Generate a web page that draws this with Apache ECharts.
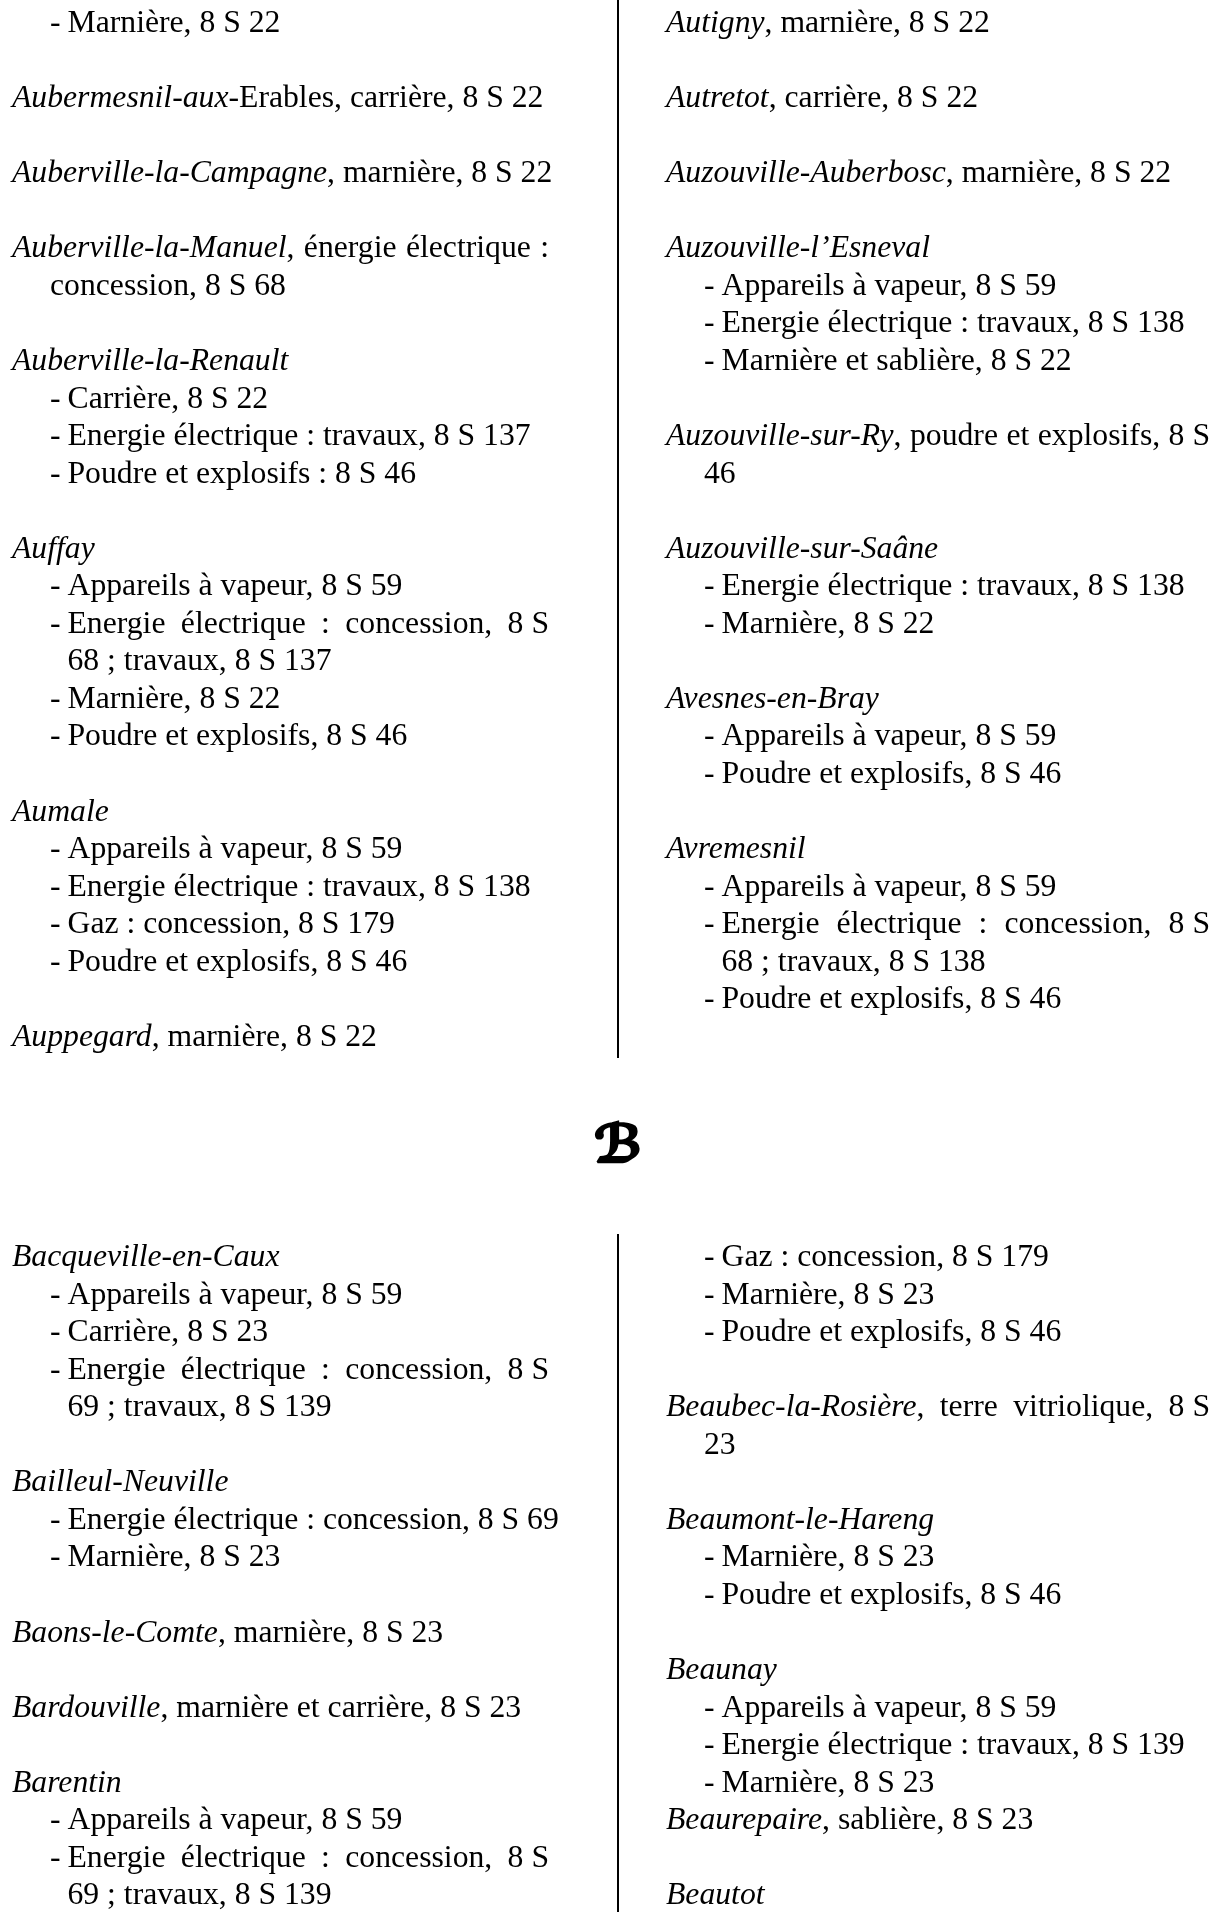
<!DOCTYPE html>
<html>
<head>
<meta charset="utf-8">
<script src="https://cdn.jsdelivr.net/npm/echarts@6/dist/echarts.min.js"></script>
<style>
    html, body { margin: 0; padding: 0; background: #fff; }
    #page { width: 1223px; height: 1912px; }
</style>
</head>
<body>
<div id="page"></div>
<script>
// _..._ = italique, '- ' = sous-entrée, '+ ' = suite de la ligne précédente, '' = ligne vide
const leftTop = [
    '- Marnière, 8 S 22',
    '',
    '_Aubermesnil-aux_-Erables, carrière, 8 S 22',
    '',
    '_Auberville-la-Campagne_, marnière, 8 S 22',
    '',
    '_Auberville-la-Manuel_, énergie électrique :',
    '+ concession, 8 S 68',
    '',
    '_Auberville-la-Renault_',
    '- Carrière, 8 S 22',
    '- Energie électrique : travaux, 8 S 137',
    '- Poudre et explosifs : 8 S 46',
    '',
    '_Auffay_',
    '- Appareils à vapeur, 8 S 59',
    '- Energie électrique : concession, 8 S',
    '+ 68 ; travaux, 8 S 137',
    '- Marnière, 8 S 22',
    '- Poudre et explosifs, 8 S 46',
    '',
    '_Aumale_',
    '- Appareils à vapeur, 8 S 59',
    '- Energie électrique : travaux, 8 S 138',
    '- Gaz : concession, 8 S 179',
    '- Poudre et explosifs, 8 S 46',
    '',
    '_Auppegard_, marnière, 8 S 22',
]
const rightTop = [
    '_Autigny_, marnière, 8 S 22',
    '',
    '_Autretot_, carrière, 8 S 22',
    '',
    '_Auzouville-Auberbosc_, marnière, 8 S 22',
    '',
    '_Auzouville-l’Esneval_',
    '- Appareils à vapeur, 8 S 59',
    '- Energie électrique : travaux, 8 S 138',
    '- Marnière et sablière, 8 S 22',
    '',
    '_Auzouville-sur-Ry_, poudre et explosifs, 8 S',
    '+ 46',
    '',
    '_Auzouville-sur-Saâne_',
    '- Energie électrique : travaux, 8 S 138',
    '- Marnière, 8 S 22',
    '',
    '_Avesnes-en-Bray_',
    '- Appareils à vapeur, 8 S 59',
    '- Poudre et explosifs, 8 S 46',
    '',
    '_Avremesnil_',
    '- Appareils à vapeur, 8 S 59',
    '- Energie électrique : concession, 8 S',
    '+ 68 ; travaux, 8 S 138',
    '- Poudre et explosifs, 8 S 46',
]
const sectionLetter = 'ℬ'
const leftBottom = [
    '_Bacqueville-en-Caux_',
    '- Appareils à vapeur, 8 S 59',
    '- Carrière, 8 S 23',
    '- Energie électrique : concession, 8 S',
    '+ 69 ; travaux, 8 S 139',
    '',
    '_Bailleul-Neuville_',
    '- Energie électrique : concession, 8 S 69',
    '- Marnière, 8 S 23',
    '',
    '_Baons-le-Comte_, marnière, 8 S 23',
    '',
    '_Bardouville_, marnière et carrière, 8 S 23',
    '',
    '_Barentin_',
    '- Appareils à vapeur, 8 S 59',
    '- Energie électrique : concession, 8 S',
    '+ 69 ; travaux, 8 S 139',
]
const rightBottom = [
    '- Gaz : concession, 8 S 179',
    '- Marnière, 8 S 23',
    '- Poudre et explosifs, 8 S 46',
    '',
    '_Beaubec-la-Rosière_, terre vitriolique, 8 S',
    '+ 23',
    '',
    '_Beaumont-le-Hareng_',
    '- Marnière, 8 S 23',
    '- Poudre et explosifs, 8 S 46',
    '',
    '_Beaunay_',
    '- Appareils à vapeur, 8 S 59',
    '- Energie électrique : travaux, 8 S 139',
    '- Marnière, 8 S 23',
    '_Beaurepaire_, sablière, 8 S 23',
    '',
    '_Beautot_',
]

// mise en page
const FONT = '"Liberation Serif", "Times New Roman", serif'
const SIZE = 31.7
const PITCH = 37.55
const INDENT_DASH = 38
const INDENT_TEXT = 55.5

const ctx = document.createElement('canvas').getContext('2d')
const fontOf = it => (it ? 'italic ' : '') + SIZE + 'px ' + FONT
const widthOf = (t, it) => {
    ctx.font = fontOf(it)
    return ctx.measureText(t).width
}
// décalage entre ligne de base et milieu (verticalAlign middle)
ctx.font = fontOf(false)
ctx.textBaseline = 'alphabetic'
const a1 = ctx.measureText('H').actualBoundingBoxAscent
ctx.textBaseline = 'middle'
const a2 = ctx.measureText('H').actualBoundingBoxAscent
const baseShift = a1 - a2
const spaceW = widthOf(' ', false)

function parseLine(src) {
    let words = [], cur = [], it = false, buf = ''
    const flush = () => {
        if (buf) { cur.push({ t: buf, it }); buf = '' }
    }
    for (const ch of src.replace(/8 S/g, '8\u00a0S')) {
        if (ch === '_') { flush(); it = !it }
        else if (ch === ' ') {
            flush()
            if (cur.length) { words.push(cur); cur = [] }
        } else buf += ch
    }
    flush()
    if (cur.length) words.push(cur)
    return words
}

function textEl(t, it, x, y) {
    return {
        type: 'text',
        x: x,
        y: y,
        silent: true,
        style: {
            text: t,
            fontFamily: FONT,
            fontSize: SIZE,
            fontStyle: it ? 'italic' : 'normal',
            fill: '#000',
            align: 'left',
            verticalAlign: 'middle',
            textAlign: 'left',
            textVerticalAlign: 'middle',
        },
    }
}

function layoutColumn(lines, x0, base0, colW) {
    let els = [],
        kind = 'h'
    lines.forEach((src, i) => {
        if (!src) return
        let text = src,
            x = x0
        const y = base0 + i * PITCH - baseShift
        const next = lines[i + 1] || ''
        const justify = next.startsWith('+ ')
        if (src.startsWith('- ')) {
            kind = 'i'
            text = src.slice(2)
            x = x0 + INDENT_TEXT
            els.push(textEl('-', false, x0 + INDENT_DASH, y))
        } else if (src.startsWith('+ ')) {
            text = src.slice(2)
            x = x0 + (kind === 'i' ? INDENT_TEXT : INDENT_DASH)
        } else {
            kind = 'h'
        }
        const words = parseLine(text)
        const widths = words.map(w => w.reduce((s, r) => s + widthOf(r.t, r.it), 0))
        const total = widths.reduce((s, v) => s + v, 0)
        let gap = spaceW
        if (justify && words.length > 1) {
            gap = Math.max(spaceW, (x0 + colW - x - total) / (words.length - 1))
        }
        words.forEach((w, k) => {
            let rx = x
            w.forEach(r => {
                els.push(textEl(r.t, r.it, rx, y))
                rx += widthOf(r.t, r.it)
            })
            x += widths[k] + gap
        })
    })
    return els
}

const DIV_X = 618
let elements = []
    .concat(layoutColumn(leftTop, 12, 32, 537))
    .concat(layoutColumn(rightTop, 666, 32, 544))
    .concat(layoutColumn(leftBottom, 12, 1266, 537))
    .concat(layoutColumn(rightBottom, 666, 1266, 544))

elements.push(
    {
        type: 'line',
        silent: true,
        shape: { x1: DIV_X, y1: 0, x2: DIV_X, y2: 1058 },
        style: { stroke: '#000', lineWidth: 2 },
    },
    {
        type: 'line',
        silent: true,
        shape: { x1: DIV_X, y1: 1234, x2: DIV_X, y2: 1912 },
        style: { stroke: '#000', lineWidth: 2 },
    },
    {
        type: 'text',
        x: DIV_X,
        y: 1148,
        silent: true,
        style: {
            text: sectionLetter,
            fontFamily: '"DejaVu Serif", "DejaVu Sans", serif',
            fontSize: 52,
            fontWeight: 'bold',
            fontStyle: 'italic',
            fill: '#000',
            stroke: '#000',
            lineWidth: 2.5,
            align: 'center',
            verticalAlign: 'middle',
            textAlign: 'center',
            textVerticalAlign: 'middle',
        },
    },
)

var myChart = echarts.init(document.getElementById('page'), null, { renderer: 'canvas' })
myChart.setOption({
    backgroundColor: '#fff',
    animation: false,
    graphic: { elements: elements },
})
</script>
</body>
</html>
